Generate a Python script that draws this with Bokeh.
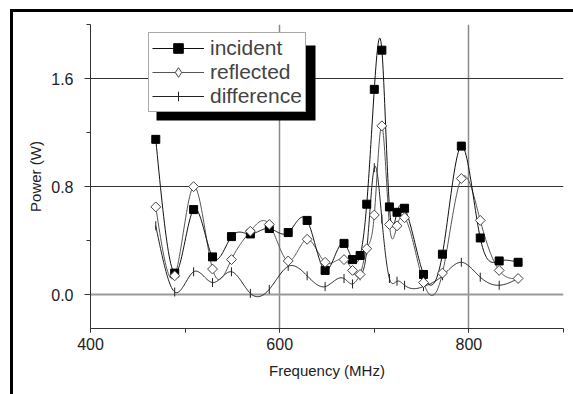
import numpy as np
from bokeh.plotting import figure
from bokeh.models import (SingleIntervalTicker, NumeralTickFormatter, Grid, FixedTicker,
                          Legend, LegendItem, BoxAnnotation, Range1d)
from bokeh.embed import file_html
from bokeh.resources import INLINE

# ---- data ----
freq = [469, 489, 509, 529, 549, 569, 589, 609, 629, 648, 668, 677, 685, 692,
        700, 708, 716, 724, 732, 752, 772, 792, 812, 832, 852]
incident = [1.15, 0.16, 0.63, 0.28, 0.43, 0.45, 0.49, 0.46, 0.55, 0.18, 0.38, 0.26,
            0.29, 0.67, 1.52, 1.81, 0.65, 0.61, 0.64, 0.15, 0.30, 1.10, 0.42, 0.25, 0.24]
reflected = [0.65, 0.14, 0.80, 0.19, 0.26, 0.47, 0.52, 0.25, 0.41, 0.24, 0.26, 0.18,
             0.15, 0.34, 0.59, 1.25, 0.52, 0.51, 0.57, 0.09, 0.16, 0.86, 0.55, 0.18, 0.12]
difference = [0.51, 0.02, 0.17, 0.09, 0.17, 0.01, 0.04, 0.21, 0.14, 0.06, 0.12, 0.08,
              0.14, 0.33, 0.94, 0.56, 0.12, 0.10, 0.07, 0.06, 0.14, 0.24, 0.13, 0.07, 0.12]
dark_grid_ticks = [0.8, 1.6]
zero_grid_ticks = [0.0]
x_grid_ticks = [600, 800]

FONT = "Liberation Sans"


def smooth(x, y, n=24):
    """Natural cubic spline through the points (drawing only)."""
    x = np.asarray(x, float)
    y = np.asarray(y, float)
    m = len(x)
    h = np.diff(x)
    A = np.zeros((m, m))
    b = np.zeros(m)
    A[0, 0] = A[-1, -1] = 1.0
    for i in range(1, m - 1):
        A[i, i - 1] = h[i - 1]
        A[i, i] = 2 * (h[i - 1] + h[i])
        A[i, i + 1] = h[i]
        b[i] = 6 * ((y[i + 1] - y[i]) / h[i] - (y[i] - y[i - 1]) / h[i - 1])
    M = np.linalg.solve(A, b)
    xs, ys = [], []
    for i in range(m - 1):
        t = np.linspace(x[i], x[i + 1], n, endpoint=(i == m - 2))
        a = x[i + 1] - t
        c = t - x[i]
        s = (M[i] * a ** 3 + M[i + 1] * c ** 3) / (6 * h[i]) \
            + (y[i] / h[i] - M[i] * h[i] / 6) * a + (y[i + 1] / h[i] - M[i + 1] * h[i] / 6) * c
        xs.extend(t)
        ys.extend(s)
    return xs, ys


# canvas origin at page (13, 12); the black page frame is a CSS outline just outside it
p = figure(width=560, height=382, x_range=Range1d(400, 900), y_range=Range1d(-0.25, 2.0),
           output_backend="svg", toolbar_location=None,
           min_border_left=77, min_border_right=10, min_border_top=12, min_border_bottom=66)
p.styles = {"outline": "3px solid black", "margin-left": "13px", "margin-top": "12px"}
p.outline_line_color = None
p.background_fill_color = "white"
p.border_fill_color = "white"

# grids
p.xgrid.grid_line_color = None
p.ygrid.grid_line_color = None
p.add_layout(Grid(dimension=0, ticker=FixedTicker(ticks=x_grid_ticks),
                  grid_line_color="#8a8a8a", grid_line_width=1.5))
p.add_layout(Grid(dimension=1, ticker=FixedTicker(ticks=dark_grid_ticks),
                  grid_line_color="#333333", grid_line_width=1))
p.add_layout(Grid(dimension=1, ticker=FixedTicker(ticks=zero_grid_ticks),
                  grid_line_color="#9a9a9a", grid_line_width=2))

# axes
p.xaxis.ticker = SingleIntervalTicker(interval=200, num_minor_ticks=2)
p.yaxis.ticker = SingleIntervalTicker(interval=0.8, num_minor_ticks=2)
p.yaxis.formatter = NumeralTickFormatter(format="0.0")
for ax in (p.xaxis, p.yaxis):
    ax.axis_line_color = "#333333"
    ax.major_tick_line_color = "#333333"
    ax.minor_tick_line_color = "#333333"
    ax.major_label_text_font = FONT
    ax.major_label_text_font_size = "16px"
    ax.major_label_text_color = "#222222"
    ax.axis_label_text_font = FONT
    ax.axis_label_text_font_size = "15px"
    ax.axis_label_text_font_style = "normal"
    ax.axis_label_text_color = "#222222"
p.xaxis.major_tick_in = 0
p.xaxis.major_tick_out = 4
p.xaxis.minor_tick_in = 0
p.xaxis.minor_tick_out = 4
p.xaxis.major_label_standoff = 5
p.xaxis.axis_label = "Frequency (MHz)"
p.xaxis.axis_label_standoff = 9
p.yaxis.major_tick_in = 0
p.yaxis.major_tick_out = 6
p.yaxis.minor_tick_in = 0
p.yaxis.minor_tick_out = 4
p.yaxis.major_label_standoff = 11
p.yaxis.axis_label = "Power (W)"
p.yaxis.axis_label_standoff = 4

# series
dx, dy = smooth(freq, difference)
ld = p.line(dx, dy, line_color="#222222", line_width=1)
sd = p.scatter(freq, difference, marker="dash", angle=np.pi / 2, size=9,
               line_color="#222222", line_width=1)
rx, ry = smooth(freq, reflected)
lr = p.line(rx, ry, line_color="#555555", line_width=1)
ix, iy = smooth(freq, incident)
li = p.line(ix, iy, line_color="#111111", line_width=1)
si = p.scatter(freq, incident, marker="square", size=8, fill_color="black", line_color="black")
sr = p.scatter(freq, reflected, marker="square", angle=np.pi / 4, size=7,
               fill_color="white", line_color="#444444", line_width=1)

# legend-only glyph styles (hidden renderers, legend ignores marker angles)
sr_leg = p.scatter(freq, reflected, marker="diamond", fill_color="white",
                   line_color="#444444", line_width=1, visible=False)
sd_leg = p.scatter(freq, difference, marker="cross", line_color="#222222",
                   line_width=1, visible=False)

# legend shadow + legend
shadow = BoxAnnotation(left=143, right=302, top=33, bottom=108,
                       left_units="canvas", right_units="canvas",
                       top_units="canvas", bottom_units="canvas",
                       fill_color="black", fill_alpha=1, line_color=None)
p.add_layout(shadow)
legend = Legend(items=[LegendItem(label="incident", renderers=[li, si]),
                       LegendItem(label="reflected", renderers=[lr, sr_leg]),
                       LegendItem(label="difference", renderers=[ld, sd_leg])],
                location=(58, 216), margin=0, padding=3, spacing=0,
                glyph_width=52, glyph_height=24, label_height=20, label_standoff=6,
                label_text_font=FONT, label_text_font_size="21px",
                border_line_color="#555555", border_line_width=1,
                background_fill_color="white", background_fill_alpha=1)
p.add_layout(legend)

open("out.html", "w").write(file_html(p, INLINE))
